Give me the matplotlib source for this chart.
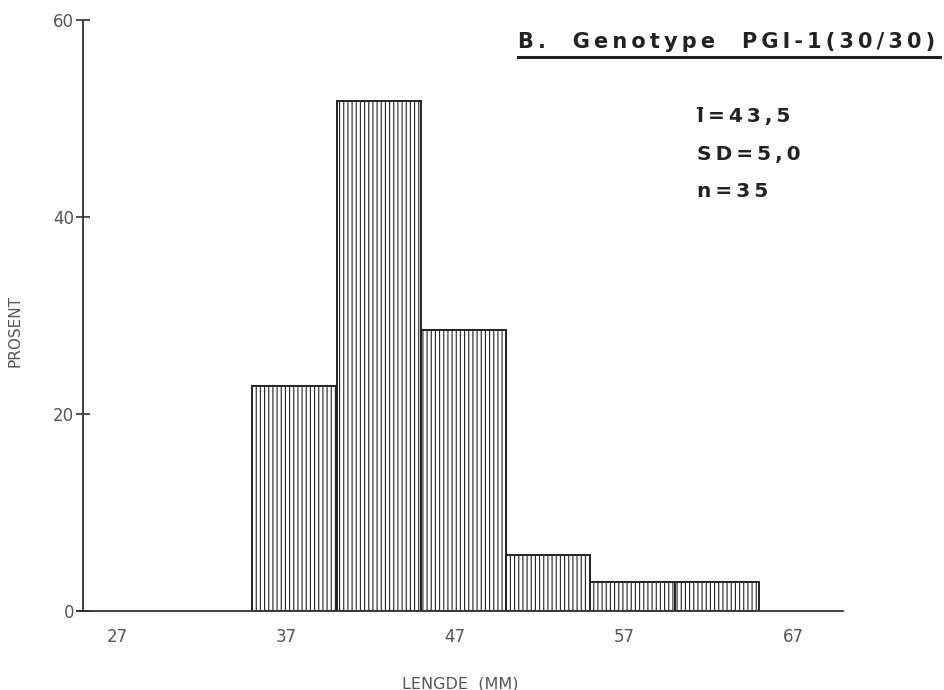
import matplotlib.pyplot as plt
import numpy as np

plt.rcParams['hatch.linewidth'] = 0.8
plt.rcParams['hatch.color'] = '#666666'

# lengde-klasser (mm) og prosent
bin_left = [35, 40, 45, 50, 55, 60]
bin_width = 5
prosent = [22.9, 51.8, 28.5, 5.7, 2.9, 2.9]
xticks = [27, 37, 47, 57, 67]
yticks = [0, 20, 40, 60]

tittel = 'B.  Genotype  PGI-1(30/30)'
stats = ['l\u0304=43,5', 'SD=5,0', 'n=35']


def spaced(s):
    # brede bokstavavstander som i originalen (kombinerende tegn holdes samlet)
    tegn = []
    for c in s:
        if c == '\u0304' and tegn:
            tegn[-1] += c
        else:
            tegn.append(c)
    return '\u2009'.join(tegn)


fig = plt.figure(figsize=(9.45, 6.9), dpi=100)
ax = fig.add_axes([0.0815, 0.1145, 0.8106, 0.856])

ax.bar(bin_left, prosent, width=bin_width, align='edge', color='white',
       edgecolor='#222222', linewidth=1.4, hatch='||||')

ax.set_xlim(24.63, 69.96)
ax.set_ylim(0, 60)
ax.spines['top'].set_visible(False)
ax.spines['right'].set_visible(False)
ax.spines['left'].set_position(('data', 25.0))
ax.spines['left'].set_color('#333333')
ax.spines['bottom'].set_color('#333333')
ax.spines['left'].set_linewidth(1.3)
ax.spines['bottom'].set_linewidth(1.3)

ax.set_xticks(xticks)
ax.set_yticks(yticks)
ax.tick_params(axis='x', length=0, pad=12, labelsize=12, labelcolor='#555555')
ax.tick_params(axis='y', direction='inout', length=9.4, width=1.2, color='#333333',
               pad=2, labelsize=12, labelcolor='#555555')

ax.set_xlabel('LENGDE  (MM)', fontsize=11.5, color='#555555', labelpad=22)
fig.text(0.016, 0.52, 'PROSENT', rotation=90, ha='center', va='center',
         fontsize=11, color='#555555')

fig.text(0.990, 0.930, spaced(tittel), ha='right', va='baseline',
         fontsize=15, fontweight='bold', color='#222222')
fig.add_artist(plt.Line2D([0.548, 0.995], [0.917, 0.917], color='#222222', lw=2.2))

for s, yb in zip(stats, [0.823, 0.768, 0.7145]):
    fig.text(0.7376, yb, spaced(s), fontsize=14.5, fontweight='bold', color='#222222')

plt.savefig('out.png', dpi=100)
